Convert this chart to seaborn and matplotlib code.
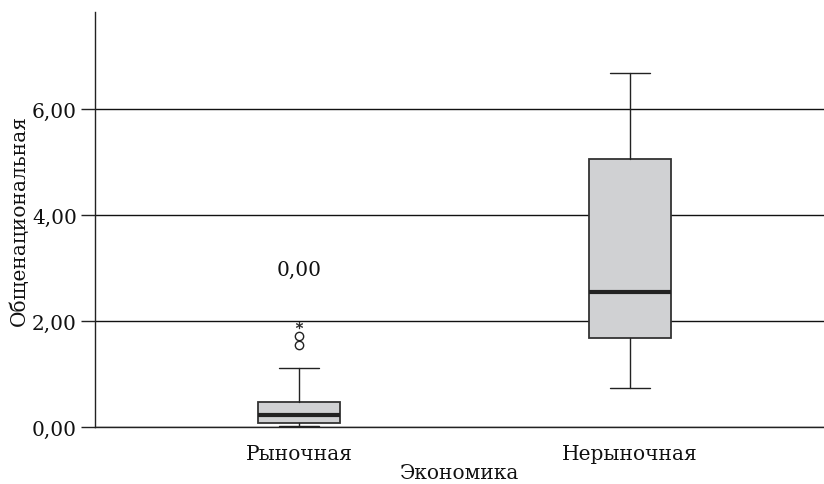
import numpy as np
import pandas as pd
import matplotlib
matplotlib.use("Agg")
import matplotlib.pyplot as plt
import seaborn as sns
from matplotlib.ticker import FuncFormatter

# data
groups = ["Рыночная", "Нерыночная"]
whisker_low = [0.02, 0.74]
q1 = [0.075, 1.68]
median = [0.23, 2.55]
q3 = [0.47, 5.06]
whisker_high = [1.11, 6.68]
outliers_circle = [[1.55, 1.72], []]
outliers_star = [[1.92], []]
label_text = "0,00"
label_pos = (0, 2.98)

sns.set_style("white")
plt.rcParams['font.family'] = ['DejaVu Serif']
fs = 14.5

fig = plt.figure(figsize=(8.24, 4.85), dpi=100)
ax = fig.add_axes([95/824, 57/485, 1 - 95/824, (428-13)/485])

stats = []
for i, g in enumerate(groups):
    stats.append({"label": g, "whislo": whisker_low[i], "q1": q1[i], "med": median[i],
                  "q3": q3[i], "whishi": whisker_high[i], "fliers": outliers_circle[i]})

ax.bxp(stats, positions=range(len(groups)), widths=0.25, patch_artist=True,
       boxprops=dict(facecolor="#d0d1d3", edgecolor="#333333", linewidth=1.3),
       medianprops=dict(color="#222222", linewidth=3),
       whiskerprops=dict(color="#222222", linewidth=1),
       capprops=dict(color="#222222", linewidth=1),
       capwidths=0.12,
       flierprops=dict(marker="o", markersize=6, markerfacecolor="white",
                       markeredgecolor="#222222", markeredgewidth=1),
       zorder=3)

for i, vals in enumerate(outliers_star):
    if vals:
        ax.plot([i] * len(vals), vals, linestyle="none", marker="$*$",
                markersize=5, markeredgewidth=0.3, color="#222222", zorder=4)

ax.text(label_pos[0], label_pos[1], label_text, ha="center", va="center",
        fontsize=fs, color="#111111")

ax.set_xlim(-0.616, 1.586)
ax.set_ylim(0, 7.83)
ax.set_yticks([0, 2, 4, 6])
ax.yaxis.set_major_formatter(FuncFormatter(lambda v, p: f"{v:.2f}".replace(".", ",")))
ax.grid(axis="y", color="#111111", linewidth=1)
ax.set_axisbelow(True)
for s in ["top", "right"]:
    ax.spines[s].set_visible(False)
for s in ["left", "bottom"]:
    ax.spines[s].set_color("#222222")
    ax.spines[s].set_linewidth(1)
ax.tick_params(axis="y", which="major", left=True, length=10, width=1,
               color="#222222", labelsize=fs, labelcolor="#111111", pad=3)
ax.tick_params(axis="x", bottom=False, labelsize=fs, labelcolor="#111111", pad=9)
ax.set_xticks(range(len(groups)))
ax.set_xticklabels(groups)
ax.set_xlabel("Экономика", fontsize=fs, color="#111111", labelpad=0)
ax.set_ylabel("Общенациональная", fontsize=fs, color="#111111", labelpad=2.5)

fig.savefig("out.png", dpi=100)
